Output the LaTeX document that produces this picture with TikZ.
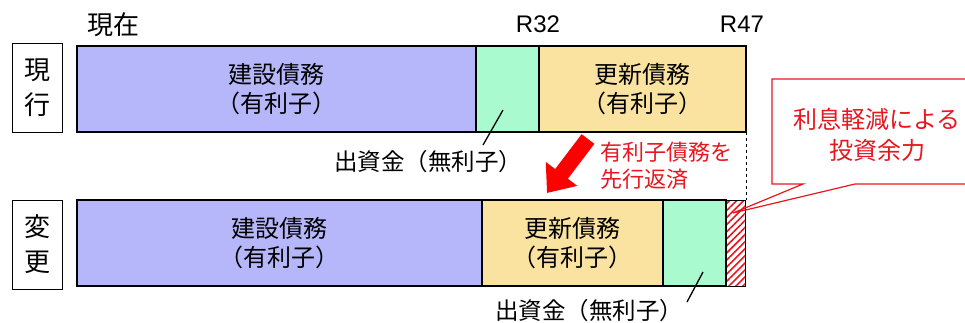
\documentclass[tikz,border=0pt]{standalone}
\usepackage{fontspec}
\setmainfont{Noto Sans CJK JP}
\newfontfamily\latfont{Liberation Sans}
\usetikzlibrary{arrows.meta,patterns.meta}
\definecolor{cblue}{RGB}{182,182,250}
\definecolor{cgreen}{RGB}{170,250,208}
\definecolor{cyellow}{RGB}{250,226,160}
\definecolor{cred}{RGB}{232,22,30}
\definecolor{arrred}{RGB}{255,0,0}
\tikzset{
  seg/.style={draw=black, line width=1.8pt, inner sep=0pt, outer sep=0pt, anchor=north west,
    align=center, minimum height=86pt, font=\fontsize{24}{29}\selectfont},
  rowlabel/.style={draw=black, line width=0.9pt, inner sep=0pt, outer sep=0pt, anchor=north west,
    align=center, minimum width=50pt, minimum height=89pt, font=\fontsize{26}{35}\selectfont},
  plain/.style={inner sep=0pt, font=\fontsize{23.5}{27}\selectfont},
  redtext/.style={inner sep=0pt, text=cred, font=\fontsize{22}{27}\selectfont, align=left},
  year/.style={inner sep=0pt, font=\latfont\fontsize{24}{28}\selectfont},
  leader/.style={draw=black, line width=1.3pt},
}
\begin{document}
\begin{tikzpicture}[x=1pt,y=-1pt]
\useasboundingbox (0,0) rectangle (965,322);
% top row
\node[rowlabel] (l1) at (12,43) {現\\行};
\node[seg, fill=cblue, minimum width=399pt] (c1) at (77,46) {建設債務\\（有利子）};
\node[seg, fill=cgreen, minimum width=63pt] (g1) at (476,46) {};
\node[seg, fill=cyellow, minimum width=207pt] (y1) at (539,46) {更新債務\\（有利子）};
% bottom row
\node[rowlabel] (l2) at (12,200) {変\\更};
\node[seg, fill=cblue, minimum width=405pt] (c2) at (77,200) {建設債務\\（有利子）};
\node[seg, fill=cyellow, minimum width=181pt] (y2) at (482,200) {更新債務\\（有利子）};
\node[seg, fill=cgreen, minimum width=63pt] (g2) at (663,200) {};
\node[seg, line width=1pt, pattern={Lines[angle=45,distance=5pt,line width=1.6pt]}, pattern color=cred, minimum width=19pt] (h2) at (726,200) {};
% headers
\node[inner sep=0pt, font=\fontsize{26}{30}\selectfont] (now) at (113,25) {現在};
\node[year] (r32) at (538,24) {R32};
\node[year] (r47) at (742,24) {R47};
% dashed guide
\draw[black, line width=0.8pt, dashed] (y1.south east) -- (y1.south east |- h2.north);
% funding labels
\node[plain] (f1) at (428,162) {出資金（無利子）};
\node[plain] (f2) at (589,311) {出資金（無利子）};
\coordinate (f1a) at (503,110);
\coordinate (f1b) at (483,145);
\coordinate (f2a) at (703,272);
\coordinate (f2b) at (687,302);
\draw[leader] (f1a) -- (f1b);
\draw[leader] (f2a) -- (f2b);
% red arrow
\coordinate (as) at (588,139);
\coordinate (ae) at (547,193);
\draw[arrred, line width=16pt, -{Triangle[width=38pt,length=24pt]}] (as) -- (ae);
\node[redtext, anchor=north west] (rt) at (600,142) {有利子債務を\\先行返済};
% callout
\node[inner sep=0pt, text=cred, align=center, font=\fontsize{24}{31}\selectfont] (co) at (877,135) {利息軽減による\\投資余力};
\coordinate (cotip) at (733,213);
\draw[cred, line width=1.2pt, line join=miter]
  (965,79) -- (772,79) -- (772,184) -- (803,184) -- (cotip) -- (855,184) -- (965,184);
\end{tikzpicture}
\end{document}
